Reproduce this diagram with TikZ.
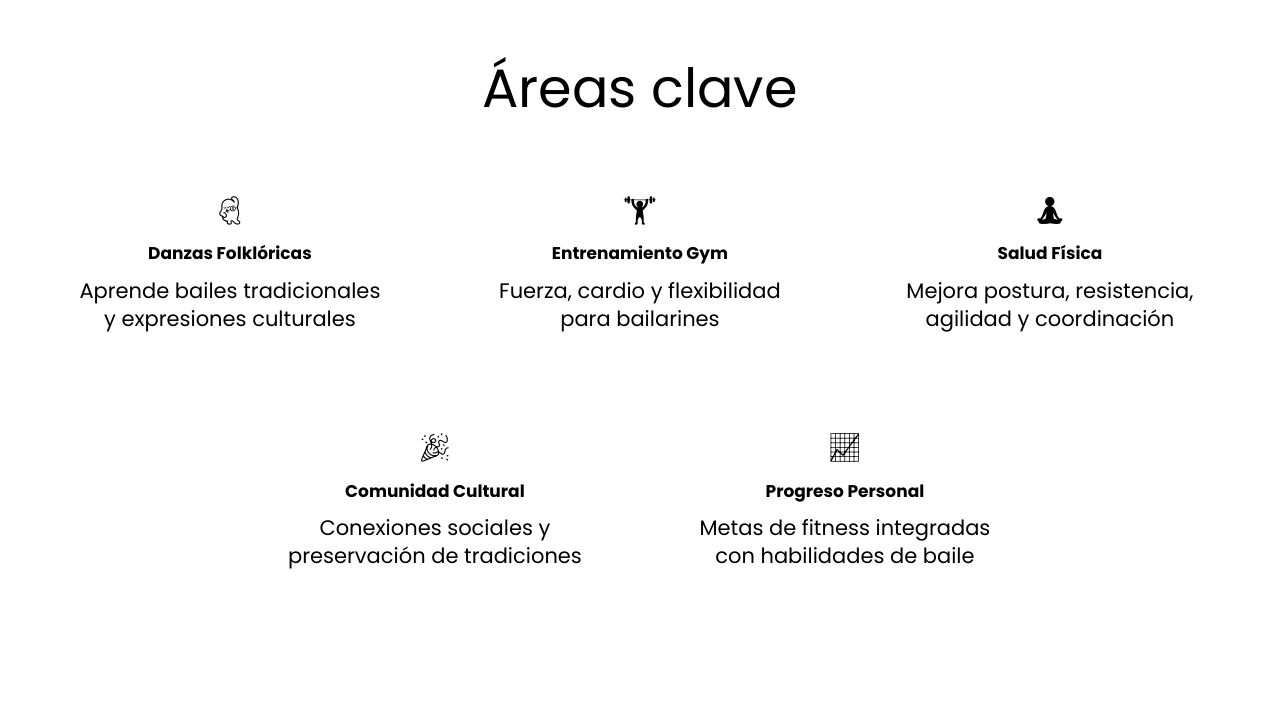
\documentclass[tikz,border=0pt]{standalone}
\usepackage{fontspec}
\setmainfont{Poppins}
\newfontfamily\emo{Noto Emoji}
\begin{document}
\begin{tikzpicture}[x=1pt,y=-1pt,
  ttl/.style={font=\fontsize{54}{60}\selectfont,anchor=base},
  ico/.style={font=\emo\fontsize{28}{30}\selectfont},
  hd/.style={font=\bfseries\fontsize{17}{20}\selectfont,anchor=base},
  bd/.style={font=\fontsize{21}{28}\selectfont,align=center,anchor=base}]
\useasboundingbox (0,0) rectangle (1280,720);
\node[ttl] (t) at (640,107) {Áreas clave};
\node[ico] (i1) at (230,211) {💃};
\node[hd] (h1) at (230,259) {Danzas Folklóricas};
\node[bd] (b1) at (230,326) {Aprende bailes tradicionales\\y expresiones culturales};
\node[ico] (i2) at (640,211) {🏋};
\node[hd] (h2) at (640,259) {Entrenamiento Gym};
\node[bd] (b2) at (640,326) {Fuerza, cardio y flexibilidad\\para bailarines};
\node[ico] (i3) at (1050,211) {🧘};
\node[hd] (h3) at (1050,259) {Salud Física};
\node[bd] (b3) at (1050,326) {Mejora postura, resistencia,\\agilidad y coordinación};
\node[ico] (i4) at (435,448) {🎉};
\node[hd] (h4) at (435,497) {Comunidad Cultural};
\node[bd] (b4) at (435,563) {Conexiones sociales y\\preservación de tradiciones};
\node[ico] (i5) at (845,448) {📈};
\node[hd] (h5) at (845,497) {Progreso Personal};
\node[bd] (b5) at (845,563) {Metas de fitness integradas\\con habilidades de baile};
\end{tikzpicture}
\end{document}
